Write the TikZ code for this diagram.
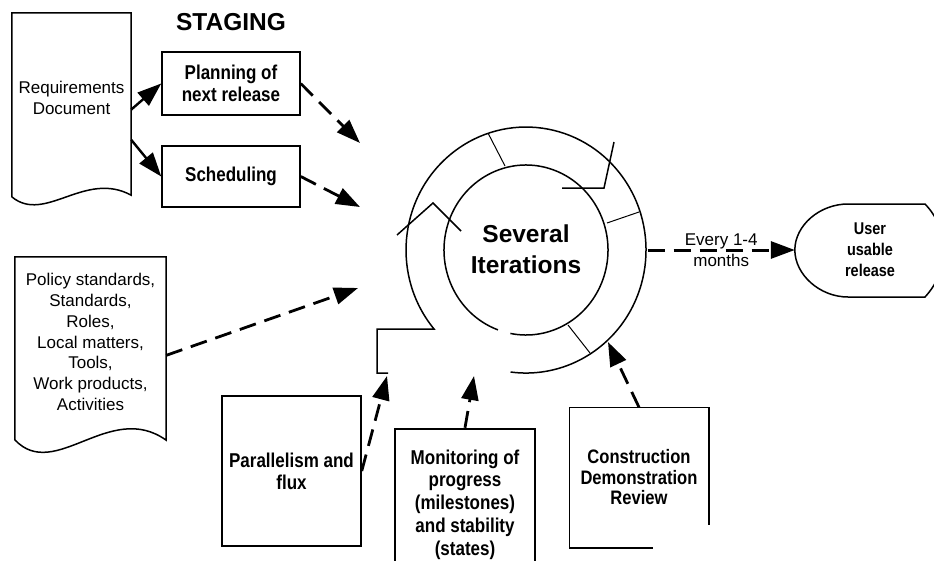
\documentclass[tikz,border=0pt]{standalone}
\usepackage{fontspec}
\setmainfont{Liberation Sans}
\newfontfamily\narrowsans[FakeStretch=0.85]{Liberation Sans}
\usetikzlibrary{arrows.meta}

\tikzset{
  plain/.style={font=\fontsize{17}{20.7}\selectfont, align=center},
  boxed/.style={draw, line width=1.5pt, inner sep=0pt, align=center,
    font=\narrowsans\bfseries\fontsize{20}{22}\selectfont},
  doc/.style={plain, inner sep=0pt},
  feed/.style={line width=2.8pt, dash pattern=on 17pt off 9pt,
    -{Triangle[length=24pt,width=17pt]}},
  push/.style={line width=2.4pt, -{Triangle[length=24pt,width=17pt]}},
  ringline/.style={line width=1.5pt},
  spoke/.style={line width=1pt}
}

\begin{document}
\begin{tikzpicture}[x=1pt, y=-1pt]
  \useasboundingbox (0,0) rectangle (934,560);
  \clip (0,0) rectangle (934,560);

  \node[font=\bfseries\fontsize{24.5}{28}\selectfont] (stag) at (231,22) {STAGING};

  % documents on the left
  \node[doc, minimum width=119pt, minimum height=170pt] (req) at (71.5,98)
    {Requirements\\Document};
  \draw[line width=1.5pt] (req.south west) -- (req.north west) -- (req.north east)
    -- (req.south east) -- ++(0,12) .. controls (85,170) and (45,224) .. (12,197) -- cycle;
  \node[doc, minimum width=151pt, minimum height=170pt] (pol) at (90.5,342)
    {Policy standards,\\Standards,\\Roles,\\Local matters,\\Tools,\\Work products,\\Activities};
  \draw[line width=1.5pt] (pol.south west) -- (pol.north west) -- (pol.north east)
    -- (pol.south east) -- ++(0,13) .. controls (110,400) and (55,482) .. (15,440) -- cycle;

  \node[boxed, minimum width=138pt, minimum height=63pt] (plan) at (231,83.5)
    {Planning of\\next release};
  \node[boxed, minimum width=138pt, minimum height=61pt] (sched) at (231,176.5)
    {Scheduling};

  % the iterations ring
  \node[circle, minimum size=243pt, inner sep=0pt] (ring) at (526,250) {};
  \node[font=\bfseries\fontsize{24.5}{31}\selectfont, align=center] (iter) at (526,249)
    {Several\\Iterations};
  \draw[ringline] (388,373) -- (377,373) -- (377,329.1) -- (434.1,329.1)
    arc[start angle=140, end angle=457.4, x radius=120, y radius=123];
  \draw[ringline] (526,250) ++(110:82 and 85)
    arc[start angle=110, end angle=461, x radius=82, y radius=85];
  \draw[spoke] (505,166) -- (488,133);
  \draw[spoke] (607,223) -- (639,212);
  \draw[spoke] (568,325) -- (590,353);
  \draw[ringline] (397,235) -- (433,203) -- (461,231);
  \draw[ringline] (562,188) -- (604,188) -- (614,142);

  % boxes below
  \node[boxed, minimum width=139pt, minimum height=150pt] (par) at (291.5,471)
    {Parallelism and\\flux};
  \node[boxed, line width=2.5pt, minimum width=140pt, minimum height=151pt,
    font=\narrowsans\bfseries\fontsize{20}{22.8}\selectfont] (mon) at (465,504.5)
    {Monitoring of\\progress\\(milestones)\\and stability\\(states)};
  \node[boxed, draw=none, minimum width=138pt, minimum height=139pt,
    font=\narrowsans\bfseries\fontsize{19.5}{20.5}\selectfont] (con) at (639,477.5)
    {Construction\\Demonstration\\Review};
  \draw[line width=1.5pt] ([xshift=-56pt]con.south east) -- (con.south west)
    -- (con.north west) -- (con.north east) -- ([yshift=23pt]con.south east);

  % release
  \node[font=\narrowsans\bfseries\fontsize{17}{21}\selectfont, align=center,
    minimum width=150pt, minimum height=93pt, inner sep=0pt] (rel) at (870,250)
    {User\\usable\\release};
  \draw[line width=1.5pt] (rel.west) .. controls (795,225) and (820,204) .. (848,204)
    -- (925,204) .. controls (950,230) and (950,270) .. (925,297) -- (848,297)
    .. controls (820,297) and (795,275) .. (rel.west);

  \coordinate (planT) at (360,143);
  \coordinate (schedT) at (360,207);
  \coordinate (polT) at (358,288);
  \coordinate (parT) at (387,376);
  \coordinate (monT) at (474,376);
  \coordinate (conT) at (608,342);

  \draw[push] (req.-11) -- (plan.west);
  \draw[push] (req.-35) -- (sched.west);
  \draw[feed] (plan.east) -- (planT);
  \draw[feed] (sched.east) -- (schedT);
  \draw[feed] (pol.-10) -- (polT);
  \draw[feed] (par.east) -- (parT);
  \draw[feed] (mon.north) -- (monT);
  \draw[feed] (con.north) -- (conT);
  \draw[feed, line width=3pt] (ring.east) -- node[plain] {Every 1-4\\months} (rel.west);
\end{tikzpicture}
\end{document}
